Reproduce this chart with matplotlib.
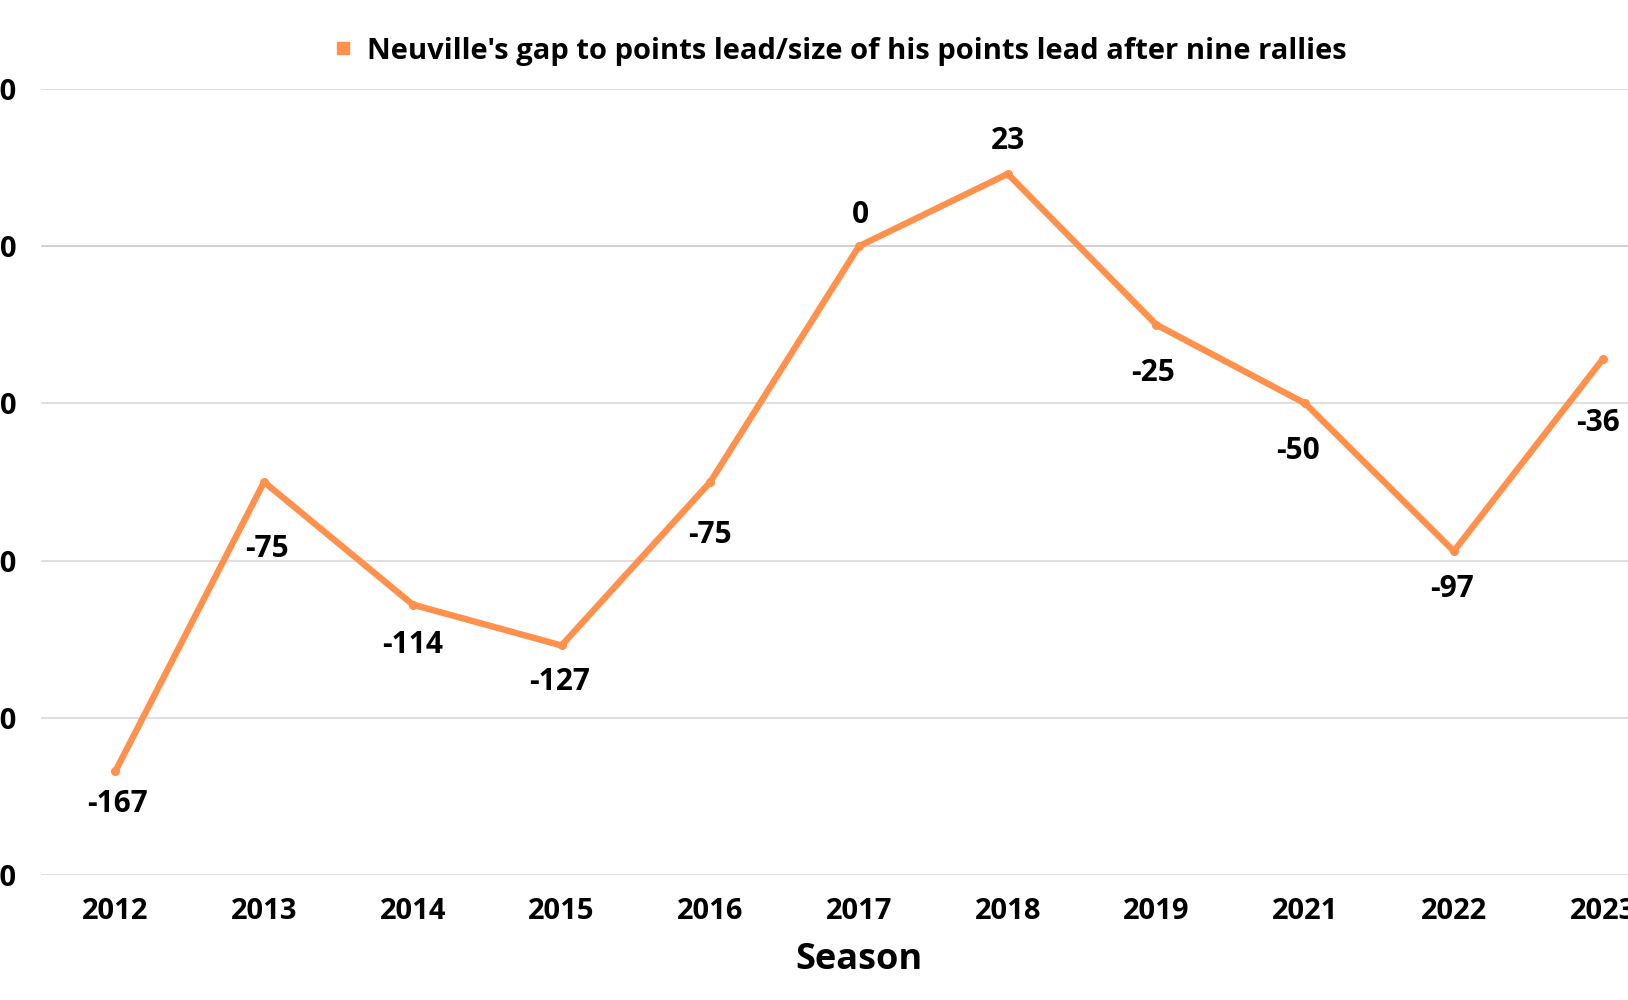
import matplotlib
matplotlib.use("Agg")
import matplotlib.pyplot as plt

seasons = ["2012", "2013", "2014", "2015", "2016", "2017", "2018", "2019", "2021", "2022", "2023"]
gap = [-167, -75, -114, -127, -75, 0, 23, -25, -50, -97, -36]
y_ticks = [-200, -150, -100, -50, 0, 50]

# label offsets in pixels (dx, dy), Canva-style placement
label_offsets = [(2, -33), (3, -67), (0, -40), (-2, -37), (0, -53),
                 (1, 31), (0, 33), (-3, -48), (-7, -48), (-2, -38), (-5, -64)]

ORANGE = "#FF914D"
plt.rcParams["font.family"] = ["Open Sans", "DejaVu Sans"]
plt.rcParams["font.weight"] = "bold"

W, H = 1628, 1000
fig = plt.figure(figsize=(W / 100, H / 100), dpi=100)
left, right, top, bottom = 41, 1677, 89, 875
ax = fig.add_axes([left / W, 1 - bottom / H, (right - left) / W, (bottom - top) / H])

x = list(range(len(seasons)))
ax.plot(x, gap, color=ORANGE, linewidth=4.6, marker="o", markersize=5.5,
        solid_capstyle="round", label="Neuville's gap to points lead/size of his points lead after nine rallies",
        zorder=3)

for xi, v, (dx, dy) in zip(x, gap, label_offsets):
    ax.annotate(str(v), (xi, v), xytext=(dx * 0.72, dy * 0.72), textcoords="offset points",
                ha="center", va="center", fontsize=21.5, fontweight="bold", color="black")

ax.set_xlim(-0.5, len(seasons) - 0.5)
ax.set_ylim(-200, 50)
ax.set_yticks(y_ticks)
ax.set_yticklabels([str(t) for t in y_ticks])
ax.set_xticks(x)
ax.set_xticklabels(seasons)
ax.tick_params(axis="both", length=0, labelsize=21, labelcolor="black")
ax.tick_params(axis="x", pad=15.5)
ax.tick_params(axis="y", pad=17.5)
for lbl in ax.get_xticklabels() + ax.get_yticklabels():
    lbl.set_fontweight("bold")

ax.grid(axis="y", color="#D9D9D9", linewidth=1.2, zorder=0)
ax.axhline(0, color="#A6A6A6", linewidth=1.2, zorder=1)
for s in ax.spines.values():
    s.set_visible(False)

ax.set_xlabel("Season", fontsize=26, fontweight="bold", labelpad=12)

ax.legend(loc="center", bbox_to_anchor=(841 / W, 1 - 51 / H), bbox_transform=fig.transFigure,
          frameon=False, fontsize=21, handlelength=0.5, handletextpad=0.55)
leg = ax.get_legend()
for h in leg.legend_handles:
    h.set_linestyle("none")
    h.set_marker("s")
    h.set_markersize(8)
for t in leg.get_texts():
    t.set_fontweight("bold")

fig.savefig("out.png", dpi=100)
